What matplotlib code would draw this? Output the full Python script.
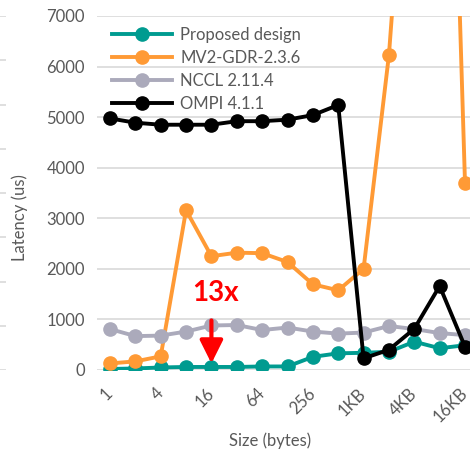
import matplotlib.pyplot as plt

plt.rcParams['font.family'] = ['Lato', 'DejaVu Sans']

sizes = ['1', '2', '4', '8', '16', '32', '64', '128', '256', '512',
         '1KB', '2KB', '4KB', '8KB', '16KB']
proposed = [20, 30, 50, 60, 60, 60, 70, 70, 260, 330, 340, 360, 560, 430, 490]
mv2 = [130, 170, 270, 3160, 2250, 2320, 2310, 2135, 1695, 1575, 2000, 6230,
       13000, 20000, 3690]
nccl = [810, 670, 680, 760, 880, 890, 790, 840, 760, 720, 740, 870, 810, 730, 690]
ompi = [4975, 4890, 4850, 4850, 4850, 4920, 4920, 4950, 5040, 5240, 230, 400,
        815, 1660, 460]

series = [
    ('Proposed design', proposed, '#009b90'),
    ('MV2-GDR-2.3.6', mv2, '#ff9a35'),
    ('NCCL 2.11.4', nccl, '#abaabb'),
    ('OMPI 4.1.1', ompi, '#000000'),
]

W, H = 470, 454
fig = plt.figure(figsize=(W / 100, H / 100), dpi=100)

# neighbouring panel's gridline stubs on the far left
stub = fig.add_axes([0, 84 / H, 6 / W, 354 / H])
stub.set_ylim(0, 8)
stub.set_yticks(range(9))
stub.grid(axis='y', color='#d9d9d9', lw=1.2)
stub.tick_params(left=False, bottom=False, labelleft=False, labelbottom=False)
for s in stub.spines.values():
    s.set_visible(False)
stub.patch.set_alpha(0)

ax = fig.add_axes([97.3 / W, 84 / H, 380.4 / W, 354 / H])
x = list(range(len(sizes)))
for name, vals, col in series:
    ax.plot(x, vals, color=col, lw=2.8, marker='o', markersize=9.5, label=name)

ax.set_xlim(-0.5, len(sizes) - 0.5)
ax.set_ylim(0, 7000)
ax.set_yticks(range(0, 7001, 1000))
ax.set_xticks(x[::2])
ax.set_xticklabels(sizes[::2], rotation=45, ha='right', va='center',
                   rotation_mode='anchor')
ax.tick_params(axis='both', length=0, labelsize=12, colors='#595959')
ax.tick_params(axis='y', pad=9)
ax.tick_params(axis='x', pad=15)
ax.grid(axis='y', color='#d9d9d9', lw=1.2)
ax.set_axisbelow(True)
for s in ax.spines.values():
    s.set_visible(False)

fig.text(20 / W, 1 - 218 / H, 'Latency (us)', rotation=90, ha='center',
         va='center', fontsize=12, color='#595959')
fig.text(270 / W, 1 - 441 / H, 'Size (bytes)', ha='center', va='center',
         fontsize=12, color='#595959')

# speedup callout at 16 bytes
ax.annotate('', xy=(4, 130), xytext=(4, 980),
            arrowprops=dict(arrowstyle='-|>,head_length=0.7,head_width=0.35',
                            color='red', lw=3, mutation_scale=20,
                            shrinkA=0, shrinkB=0))
ax.text(4.15, 1520, '13x', color='red', fontsize=20, fontweight='bold',
        ha='center', va='center')

leg = ax.legend(loc='upper left', bbox_to_anchor=(0.01, 1.0), frameon=False,
                fontsize=12, handlelength=3.6, labelspacing=0.43,
                handletextpad=0.5, borderaxespad=0.25)
for t in leg.get_texts():
    t.set_color('#595959')

fig.savefig('out.png', dpi=100)
